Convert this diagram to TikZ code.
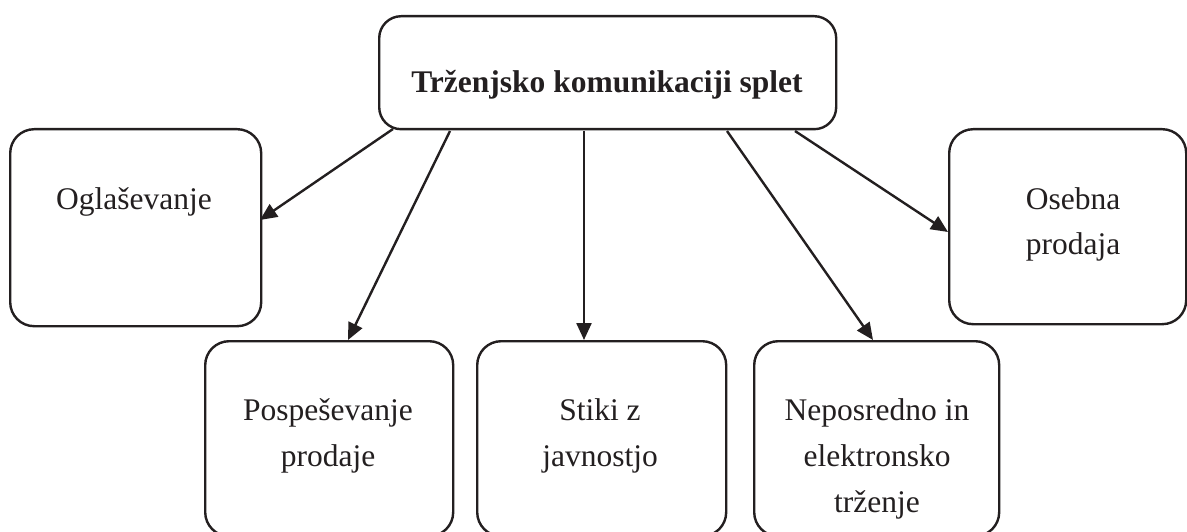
\documentclass[tikz,border=0pt]{standalone}
\usepackage{fontspec}
\setmainfont{Liberation Serif}
\usetikzlibrary{arrows.meta}
\definecolor{ink}{RGB}{35,31,32}
\begin{document}
\begin{tikzpicture}[x=1pt,y=-1pt,
  box/.style={draw=ink, line width=2.4pt, rounded corners=24pt, inner sep=0pt, anchor=north west},
  lbl/.style={anchor=base, inner sep=0pt, text=ink, font=\fontsize{31.5}{46}\selectfont},
  arr/.style={draw=ink, line width=2.4pt, -{Triangle[length=17pt,width=15pt]}}]
\useasboundingbox (0,0) rectangle (1187,532);
% boxes
\node[box, rounded corners=22pt, minimum width=457pt, minimum height=113pt] (top) at (378,15) {};
\node[box, minimum width=251pt, minimum height=197pt] (ogl) at (9,128) {};
\node[box, minimum width=237pt, minimum height=195pt] (ose) at (948,128) {};
\node[box, minimum width=248pt, minimum height=195pt] (pos) at (204,340) {};
\node[box, minimum width=249pt, minimum height=195pt] (sti) at (476,340) {};
\node[box, minimum width=245pt, minimum height=195pt] (nep) at (753,340) {};
% labels
\node[lbl, font=\fontsize{31.5}{46}\selectfont\bfseries] (ttop) at (607,93) {Trženjsko komunikaciji splet};
\node[lbl] (togl) at (134,210) {Oglaševanje};
\node[lbl] (tose) at (1073,209) {\begin{tabular}[t]{@{}c@{}}Osebna\\prodaja\end{tabular}};
\node[lbl] (tpos) at (328,420) {\begin{tabular}[t]{@{}c@{}}Pospeševanje\\prodaje\end{tabular}};
\node[lbl] (tsti) at (600,420) {\begin{tabular}[t]{@{}c@{}}Stiki z\\javnostjo\end{tabular}};
\node[lbl] (tnep) at (877,420) {\begin{tabular}[t]{@{}c@{}}Neposredno in\\elektronsko\\trženje\end{tabular}};
% arrow end points
\coordinate (s1) at (393,129);
\coordinate (e1) at (260,220);
\coordinate (s2) at (450,131);
\coordinate (e2) at (348,340);
\coordinate (s3) at (584,131);
\coordinate (e3) at (584,340);
\coordinate (s4) at (727,131);
\coordinate (e4) at (873,340);
\coordinate (s5) at (795,131);
\coordinate (e5) at (948,232);
\draw[arr] (s1) -- (e1);
\draw[arr] (s2) -- (e2);
\draw[arr] (s3) -- (e3);
\draw[arr] (s4) -- (e4);
\draw[arr] (s5) -- (e5);
\end{tikzpicture}
\end{document}
